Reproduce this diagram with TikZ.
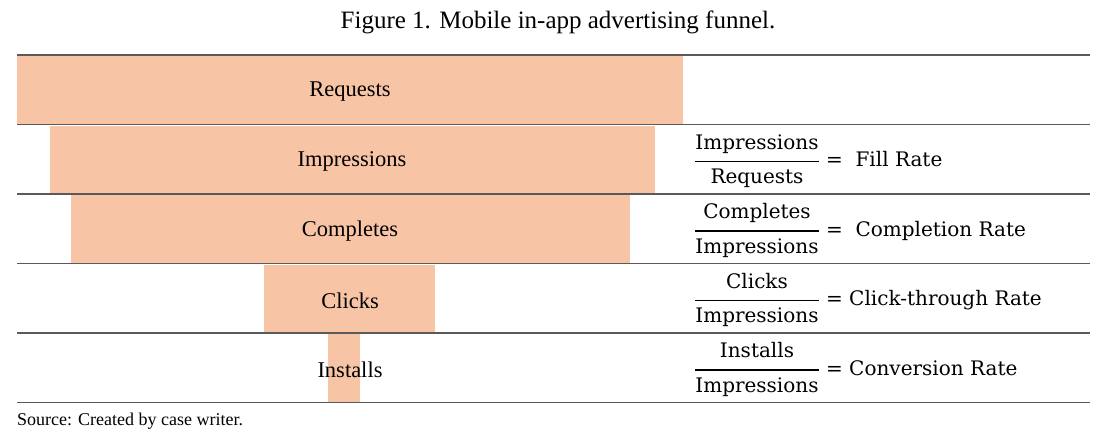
\documentclass[tikz,border=0pt]{standalone}
\usepackage{amsmath}
\usepackage{fontspec}
\setmainfont{Liberation Serif}
\newfontfamily\ratefont{DejaVu Serif}
\usetikzlibrary{positioning}
\definecolor{peach}{RGB}{247,196,165}
\definecolor{rulegray}{RGB}{90,90,90}
\newcommand{\ratio}[2]{$\genfrac{}{}{1.5pt}{0}{\text{#1}\rule[-7pt]{0pt}{7pt}}{\rule{0pt}{17pt}\text{#2}}$}

\begin{document}
\begin{tikzpicture}[x=1pt,y=-1pt,
bar/.style={fill=peach,inner sep=0pt,minimum height=68pt,anchor=north west},
stage/.style={font=\fontsize{22.5}{27}\selectfont},
rate/.style={font=\ratefont\fontsize{20}{24}\selectfont,anchor=west,inner sep=0pt},
rowline/.style={draw=rulegray,line width=1.5pt}]
\useasboundingbox (0,0) rectangle (1119,441);
\node[font=\fontsize{25}{30}\selectfont] (title) at (558,22) {Figure 1. Mobile in-app advertising funnel.};
% funnel bars
\node[bar,minimum width=666pt] (req) at (17,56) {};
\node[bar,minimum width=605pt] (imp) at (50,125.5) {};
\node[bar,minimum width=559pt] (cmp) at (71,195) {};
\node[bar,minimum width=171pt] (clk) at (264,264.5) {};
\node[bar,minimum width=32pt] (ins) at (328,334) {};
\node[stage] (reqlbl) at (350,92) {Requests};
\node[stage] (implbl) at (352,161.5) {Impressions};
\node[stage] (cmplbl) at (350,231) {Completes};
\node[stage] (clklbl) at (350,300.5) {Clicks};
\node[stage] (inslbl) at (350,370) {Installs};
% row rules
\draw[rowline] (17,55) -- (1090,55);
\draw[rowline] (17,124.5) -- (1090,124.5);
\draw[rowline] (17,194) -- (1090,194);
\draw[rowline] (17,263.5) -- (1090,263.5);
\draw[rowline] (17,333) -- (1090,333);
\draw[rowline] (17,402.5) -- (1090,402.5);
% rates
\node[rate] (fill) at (694,161) {\ratio{Impressions}{Requests}\ = \ Fill Rate};
\node[rate] (compl) at (694,230.5) {\ratio{Completes}{Impressions}\ = \ Completion Rate};
\node[rate] (ctr) at (694,300) {\ratio{Clicks}{Impressions}\ = Click-through Rate};
\node[rate] (conv) at (694,369.5) {\ratio{Installs}{Impressions}\ = Conversion Rate};
\node[font=\fontsize{18}{21}\selectfont,anchor=west,inner sep=0pt] (source) at (17,421) {Source: Created by case writer.};
\end{tikzpicture}
\end{document}
